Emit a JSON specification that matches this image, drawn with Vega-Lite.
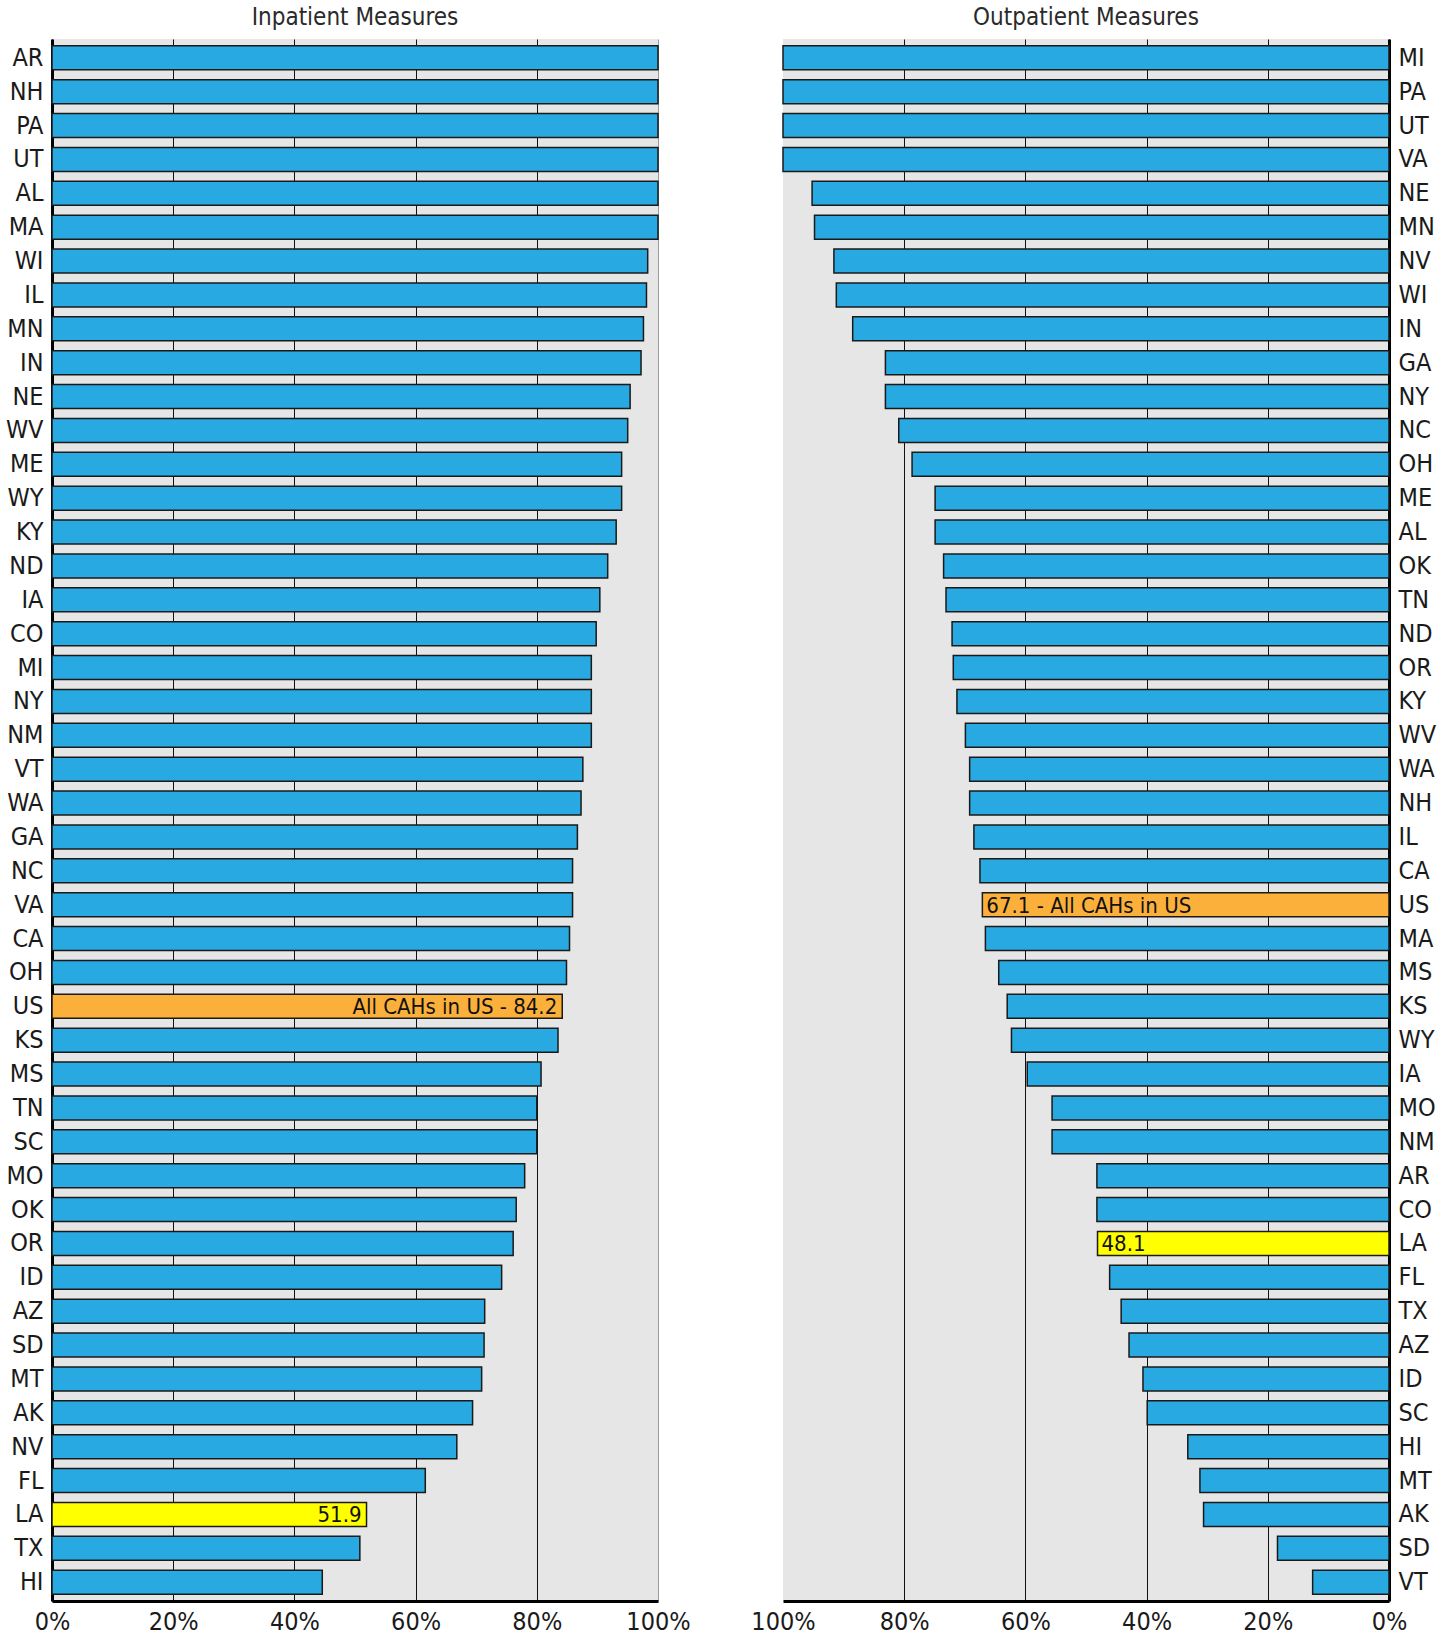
{
  "$schema": "https://vega.github.io/schema/vega-lite/v6.json",
  "background": "white",
  "padding": {"left": 5, "top": 6, "right": 5, "bottom": 0},
  "spacing": 125,
  "bounds": "flush",
  "datasets": {
    "inpatient": [
      {"state": "AR", "value": 100, "kind": "state", "label": ""},
      {"state": "NH", "value": 100, "kind": "state", "label": ""},
      {"state": "PA", "value": 100, "kind": "state", "label": ""},
      {"state": "UT", "value": 100, "kind": "state", "label": ""},
      {"state": "AL", "value": 100, "kind": "state", "label": ""},
      {"state": "MA", "value": 100, "kind": "state", "label": ""},
      {"state": "WI", "value": 98.3, "kind": "state", "label": ""},
      {"state": "IL", "value": 98.1, "kind": "state", "label": ""},
      {"state": "MN", "value": 97.6, "kind": "state", "label": ""},
      {"state": "IN", "value": 97.2, "kind": "state", "label": ""},
      {"state": "NE", "value": 95.4, "kind": "state", "label": ""},
      {"state": "WV", "value": 95.0, "kind": "state", "label": ""},
      {"state": "ME", "value": 94.0, "kind": "state", "label": ""},
      {"state": "WY", "value": 94.0, "kind": "state", "label": ""},
      {"state": "KY", "value": 93.1, "kind": "state", "label": ""},
      {"state": "ND", "value": 91.7, "kind": "state", "label": ""},
      {"state": "IA", "value": 90.4, "kind": "state", "label": ""},
      {"state": "CO", "value": 89.8, "kind": "state", "label": ""},
      {"state": "MI", "value": 89.0, "kind": "state", "label": ""},
      {"state": "NY", "value": 89.0, "kind": "state", "label": ""},
      {"state": "NM", "value": 89.0, "kind": "state", "label": ""},
      {"state": "VT", "value": 87.6, "kind": "state", "label": ""},
      {"state": "WA", "value": 87.3, "kind": "state", "label": ""},
      {"state": "GA", "value": 86.7, "kind": "state", "label": ""},
      {"state": "NC", "value": 85.9, "kind": "state", "label": ""},
      {"state": "VA", "value": 85.9, "kind": "state", "label": ""},
      {"state": "CA", "value": 85.4, "kind": "state", "label": ""},
      {"state": "OH", "value": 84.9, "kind": "state", "label": ""},
      {"state": "US", "value": 84.2, "kind": "us", "label": "All CAHs in US - 84.2"},
      {"state": "KS", "value": 83.5, "kind": "state", "label": ""},
      {"state": "MS", "value": 80.7, "kind": "state", "label": ""},
      {"state": "TN", "value": 80.0, "kind": "state", "label": ""},
      {"state": "SC", "value": 80.0, "kind": "state", "label": ""},
      {"state": "MO", "value": 78.0, "kind": "state", "label": ""},
      {"state": "OK", "value": 76.6, "kind": "state", "label": ""},
      {"state": "OR", "value": 76.1, "kind": "state", "label": ""},
      {"state": "ID", "value": 74.2, "kind": "state", "label": ""},
      {"state": "AZ", "value": 71.4, "kind": "state", "label": ""},
      {"state": "SD", "value": 71.3, "kind": "state", "label": ""},
      {"state": "MT", "value": 70.9, "kind": "state", "label": ""},
      {"state": "AK", "value": 69.4, "kind": "state", "label": ""},
      {"state": "NV", "value": 66.8, "kind": "state", "label": ""},
      {"state": "FL", "value": 61.6, "kind": "state", "label": ""},
      {"state": "LA", "value": 51.9, "kind": "la", "label": "51.9"},
      {"state": "TX", "value": 50.8, "kind": "state", "label": ""},
      {"state": "HI", "value": 44.6, "kind": "state", "label": ""}
    ],
    "outpatient": [
      {"state": "MI", "value": 100, "kind": "state", "label": ""},
      {"state": "PA", "value": 100, "kind": "state", "label": ""},
      {"state": "UT", "value": 100, "kind": "state", "label": ""},
      {"state": "VA", "value": 100, "kind": "state", "label": ""},
      {"state": "NE", "value": 95.2, "kind": "state", "label": ""},
      {"state": "MN", "value": 94.8, "kind": "state", "label": ""},
      {"state": "NV", "value": 91.6, "kind": "state", "label": ""},
      {"state": "WI", "value": 91.2, "kind": "state", "label": ""},
      {"state": "IN", "value": 88.5, "kind": "state", "label": ""},
      {"state": "GA", "value": 83.1, "kind": "state", "label": ""},
      {"state": "NY", "value": 83.1, "kind": "state", "label": ""},
      {"state": "NC", "value": 80.9, "kind": "state", "label": ""},
      {"state": "OH", "value": 78.7, "kind": "state", "label": ""},
      {"state": "ME", "value": 74.9, "kind": "state", "label": ""},
      {"state": "AL", "value": 74.9, "kind": "state", "label": ""},
      {"state": "OK", "value": 73.5, "kind": "state", "label": ""},
      {"state": "TN", "value": 73.1, "kind": "state", "label": ""},
      {"state": "ND", "value": 72.1, "kind": "state", "label": ""},
      {"state": "OR", "value": 71.9, "kind": "state", "label": ""},
      {"state": "KY", "value": 71.3, "kind": "state", "label": ""},
      {"state": "WV", "value": 69.9, "kind": "state", "label": ""},
      {"state": "WA", "value": 69.2, "kind": "state", "label": ""},
      {"state": "NH", "value": 69.2, "kind": "state", "label": ""},
      {"state": "IL", "value": 68.5, "kind": "state", "label": ""},
      {"state": "CA", "value": 67.5, "kind": "state", "label": ""},
      {"state": "US", "value": 67.1, "kind": "us", "label": "67.1 - All CAHs in US"},
      {"state": "MA", "value": 66.6, "kind": "state", "label": ""},
      {"state": "MS", "value": 64.4, "kind": "state", "label": ""},
      {"state": "KS", "value": 63.0, "kind": "state", "label": ""},
      {"state": "WY", "value": 62.3, "kind": "state", "label": ""},
      {"state": "IA", "value": 59.7, "kind": "state", "label": ""},
      {"state": "MO", "value": 55.6, "kind": "state", "label": ""},
      {"state": "NM", "value": 55.6, "kind": "state", "label": ""},
      {"state": "AR", "value": 48.2, "kind": "state", "label": ""},
      {"state": "CO", "value": 48.2, "kind": "state", "label": ""},
      {"state": "LA", "value": 48.1, "kind": "la", "label": "48.1"},
      {"state": "FL", "value": 46.1, "kind": "state", "label": ""},
      {"state": "TX", "value": 44.2, "kind": "state", "label": ""},
      {"state": "AZ", "value": 42.9, "kind": "state", "label": ""},
      {"state": "ID", "value": 40.6, "kind": "state", "label": ""},
      {"state": "SC", "value": 39.9, "kind": "state", "label": ""},
      {"state": "HI", "value": 33.2, "kind": "state", "label": ""},
      {"state": "MT", "value": 31.2, "kind": "state", "label": ""},
      {"state": "AK", "value": 30.6, "kind": "state", "label": ""},
      {"state": "SD", "value": 18.4, "kind": "state", "label": ""},
      {"state": "VT", "value": 12.6, "kind": "state", "label": ""}
    ]
  },
  "hconcat": [
    {
      "width": 606,
      "height": 1562,
      "title": {"text": "Inpatient Measures"},
      "data": {"name": "inpatient"},
      "encoding": {
        "y": {"field": "state", "type": "nominal", "sort": null,
              "scale": {"paddingInner": 0.29, "paddingOuter": 0.2},
              "axis": {"title": null, "orient": "left"}},
        "x": {"field": "value", "type": "quantitative",
              "scale": {"domain": [0, 100], "nice": false},
              "axis": {"title": null, "values": [0, 20, 40, 60, 80, 100], "labelExpr": "datum.value + '%'",
                       "gridColor": {"condition": {"test": "datum.value === 100", "value": "#9a9a9a"}, "value": "#111111"}}}
      },
      "layer": [
        {"mark": {"type": "bar", "stroke": "#1a1a1a", "strokeWidth": 1.5},
         "encoding": {"color": {"field": "kind", "type": "nominal", "legend": null,
                                "scale": {"domain": ["state", "us", "la"], "range": ["#29a9e1", "#fbb03b", "#ffff00"]}}}},
        {"mark": {"type": "text", "align": "right", "baseline": "middle", "dx": -5, "dy": 1, "fontSize": 22, "color": "#111111"},
         "encoding": {"text": {"field": "label"}}}
      ]
    },
    {
      "width": 606,
      "height": 1562,
      "title": {"text": "Outpatient Measures"},
      "data": {"name": "outpatient"},
      "encoding": {
        "y": {"field": "state", "type": "nominal", "sort": null,
              "scale": {"paddingInner": 0.29, "paddingOuter": 0.2},
              "axis": {"title": null, "orient": "right"}},
        "x": {"field": "value", "type": "quantitative",
              "scale": {"domain": [0, 100], "nice": false, "reverse": true},
              "axis": {"title": null, "values": [0, 20, 40, 60, 80, 100], "labelExpr": "datum.value + '%'",
                       "gridColor": {"condition": {"test": "datum.value === 100", "value": "#e6e6e6"}, "value": "#111111"}}}
      },
      "layer": [
        {"mark": {"type": "bar", "stroke": "#1a1a1a", "strokeWidth": 1.5},
         "encoding": {"color": {"field": "kind", "type": "nominal", "legend": null,
                                "scale": {"domain": ["state", "us", "la"], "range": ["#29a9e1", "#fbb03b", "#ffff00"]}}}},
        {"mark": {"type": "text", "align": "left", "baseline": "middle", "dx": 4, "dy": 1, "fontSize": 22, "color": "#111111"},
         "encoding": {"text": {"field": "label"}}}
      ]
    }
  ],
  "config": {
    "font": "DejaVu Sans Condensed, sans-serif",
    "view": {"fill": "#e6e6e6", "stroke": null},
    "axis": {
      "labelFont": "DejaVu Sans Condensed, sans-serif",
      "labelFontSize": 25,
      "labelColor": "#1a1a1a",
      "domainColor": "#000000",
      "domainWidth": 3,
      "ticks": false,
      "labelPadding": 8,
      "labelFlush": false,
      "labelBound": false,
      "labelOverlap": false
    },
    "axisX": {"grid": true, "gridWidth": 1, "labelPadding": 8},
    "axisY": {"grid": false, "labelPadding": 9},
    "title": {
      "font": "DejaVu Sans Condensed, sans-serif",
      "fontSize": 24,
      "fontWeight": "normal",
      "color": "#2a2a2a",
      "anchor": "middle",
      "offset": 9
    }
  }
}
